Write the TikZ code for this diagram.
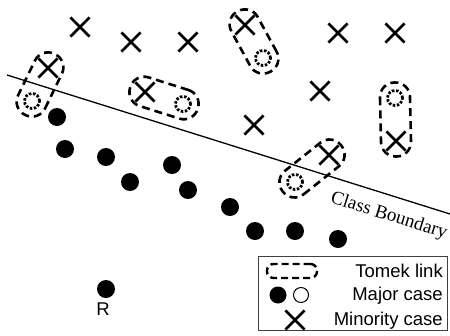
\documentclass[tikz,border=0pt]{standalone}
\usepackage{fontspec}
\setmainfont{Liberation Sans}
\newfontfamily\serifbd{Liberation Serif}
\usetikzlibrary{calc,shapes.misc}
\newcommand\tomeklink[2]{%
  \path let \p1=(#1), \p2=(#2), \n1={atan2(\y2-\y1,\x2-\x1)}, \n2={veclen(\x2-\x1,\y2-\y1)} in
    node[tomek, rotate=\n1, minimum width=\n2+31pt] at ($(#1)!0.5!(#2)$) {};}
\begin{document}
\begin{tikzpicture}[x=1pt,y=-1pt,
  mino/.style={cross out, draw, line width=2.7pt, minimum size=16.5pt, inner sep=0pt},
  major/.style={circle, fill, minimum size=18pt, inner sep=0pt},
  majo/.style={circle, draw, line width=2.8pt, dash pattern=on 2.5pt off 1.6pt, minimum size=15pt, inner sep=0pt},
  tomek/.style={rectangle, draw, line width=2.6pt, dash pattern=on 8pt off 5pt, minimum height=30pt, rounded corners=14.5pt, inner sep=0pt},
  lbl/.style={font=\fontsize{18.5}{21}\selectfont, inner sep=0pt}]
\useasboundingbox (0,0) rectangle (450,335);
% boundary
\coordinate (b1) at (7,75);
\coordinate (b2) at (450,214);
\draw[line width=1.3pt] (b1) -- (b2);
\node[font=\serifbd\fontsize{19}{22}\selectfont, rotate=-17.4, anchor=base, inner sep=0pt] (cb) at (387.5,220.5) {Class Boundary};
% minority crosses
\node[mino] (m1) at (80,27) {};
\node[mino] (m2) at (131,42) {};
\node[mino] (m3) at (188,42) {};
\node[mino] (m4) at (338,33) {};
\node[mino] (m5) at (395,33) {};
\node[mino] (m6) at (320,91) {};
\node[mino] (m7) at (254,125) {};
\node[mino] (t1a) at (48,68) {};
\node[mino] (t2a) at (145,92) {};
\node[mino] (t3a) at (245,25) {};
\node[mino] (t4a) at (396,141) {};
\node[mino] (t5a) at (329,155) {};
% open circles
\node[majo] (t1b) at (32,101) {};
\node[majo] (t2b) at (183,104) {};
\node[majo] (t3b) at (263,58) {};
\node[majo] (t4b) at (395,98) {};
\node[majo] (t5b) at (295,182) {};
% tomek links
\tomeklink{t1a}{t1b}
\tomeklink{t2a}{t2b}
\tomeklink{t3a}{t3b}
\tomeklink{t4a}{t4b}
\tomeklink{t5a}{t5b}
% major dots
\node[major] (d1) at (57,117) {};
\node[major] (d2) at (65,149) {};
\node[major] (d3) at (106,157) {};
\node[major] (d4) at (172,165) {};
\node[major] (d5) at (130,182) {};
\node[major] (d6) at (188,190) {};
\node[major] (d7) at (230,207) {};
\node[major] (d8) at (255,231) {};
\node[major] (d9) at (295,231) {};
\node[major] (d10) at (338,239) {};
\node[major] (r) at (106,289) {};
\node[lbl] (rl) at (103,309.5) {R};
% legend
\draw[line width=1pt, draw=black!75] (258,256) rectangle (447,330);
\node[tomek, minimum width=50pt, minimum height=14pt, rounded corners=6.5pt, line width=2.4pt, dash pattern=on 7pt off 4pt] (lt) at (292,271) {};
\node[major, minimum size=17pt] (lm1) at (278,295) {};
\node[circle, draw, line width=1pt, minimum size=15pt, inner sep=0pt] (lm2) at (301,295) {};
\node[mino] (lx) at (295,320) {};
\node[lbl, anchor=base east] (ltt) at (443,277) {Tomek link};
\node[lbl, anchor=base east] (lmt) at (443,300) {Major case};
\node[lbl, anchor=base east] (lxt) at (443,325) {Minority case};
\end{tikzpicture}
\end{document}
